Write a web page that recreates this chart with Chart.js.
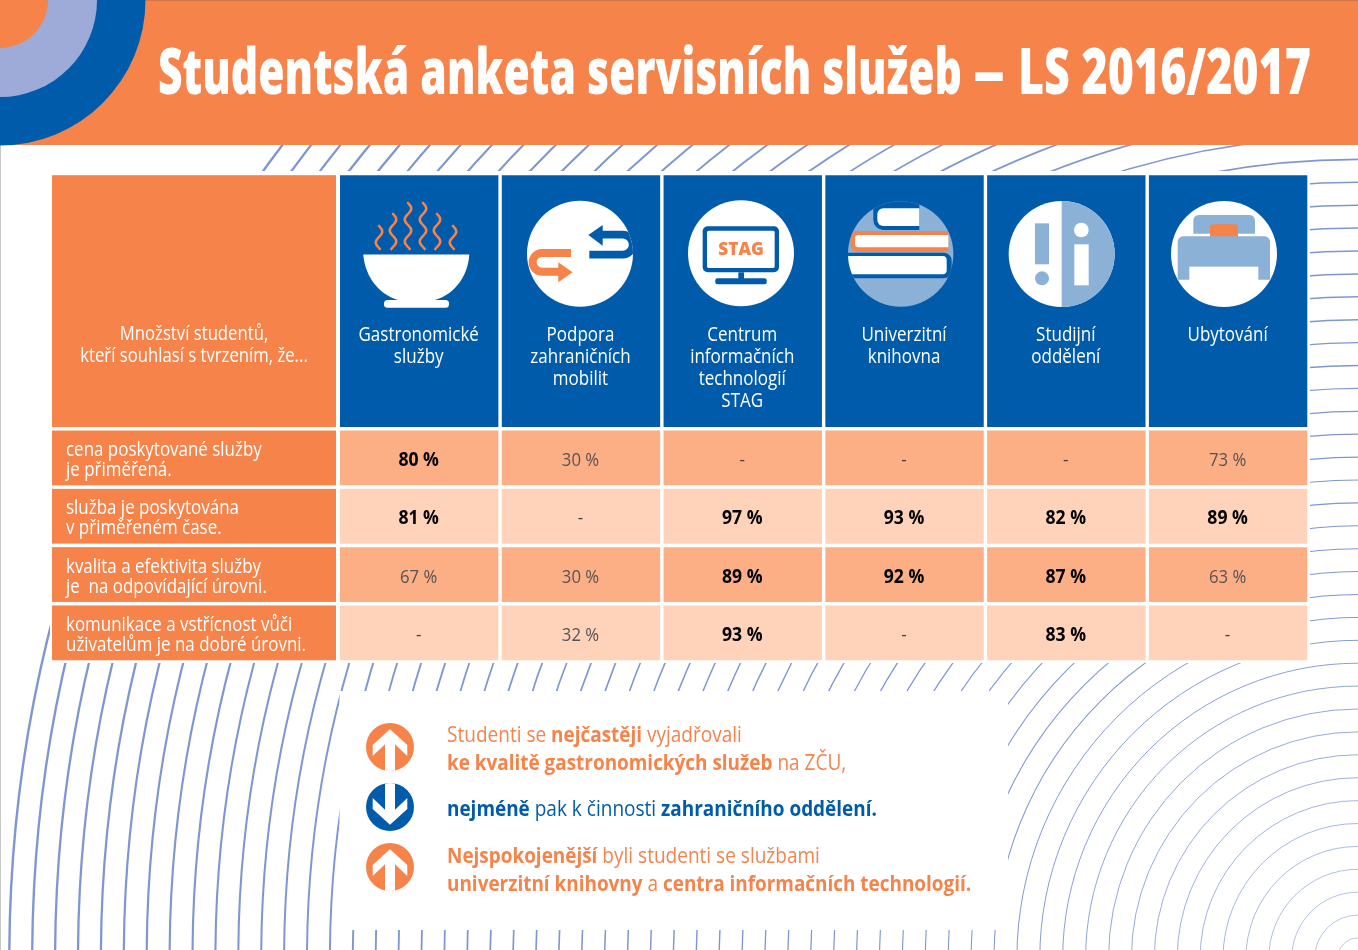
<!DOCTYPE html>
<html lang="cs">
<head>
<meta charset="utf-8">
<title>Studentská anketa servisních služeb</title>
<script src="https://cdn.jsdelivr.net/npm/chart.js@4"></script>
<style>
  html, body { margin: 0; padding: 0; background: #fff; }
  canvas { display: block; }
</style>
</head>
<body>
<canvas id="anketa" width="1358" height="950"></canvas>
<script>
const services = [
  ['Gastronomické', 'služby'],
  ['Podpora', 'zahraničních', 'mobilit'],
  ['Centrum', 'informačních', 'technologií', 'STAG'],
  ['Univerzitní', 'knihovna'],
  ['Studijní', 'oddělení'],
  ['Ubytování'],
];

const statements = [
  ['cena poskytované služby', 'je přiměřená.'],
  ['služba je poskytována', 'v přiměřeném čase.'],
  ['kvalita a efektivita služby', 'je  na odpovídající úrovni.'],
  ['komunikace a vstřícnost vůči', 'uživatelům je na dobré úrovni.'],
];

// percent of students who agree, null = "-"
const priceValues = [80, 30, null, null, null, 73];
const timeValues = [81, null, 97, 93, 82, 89];
const qualityValues = [67, 30, 89, 92, 87, 63];
const communicationValues = [null, 32, 93, null, 83, null];
const rows = [priceValues, timeValues, qualityValues, communicationValues];

const titleParts = ['Studentská anketa servisních služeb', '–', 'LS 2016/2017'];
const cornerLabel = ['Množství studentů,', 'kteří souhlasí s tvrzením, že...'];

// [text, bold]
const noteLines = [
  [['Studenti se ', false], ['nejčastěji', true], [' vyjadřovali', false]],
  [['ke kvalitě gastronomických služeb', true], [' na ZČU,', false]],
  [['nejméně', true], [' pak k činnosti ', false], ['zahraničního oddělení.', true]],
  [['Nejspokojenější', true], [' byli studenti se službami', false]],
  [['univerzitní knihovny', true], [' a ', false], ['centra informačních technologií.', true]],
];

const ORANGE = '#f6834a';
const BLUE = '#005cab';
const LIGHT = '#8cb1d7';
const ROW_DARK = '#fcae85';
const ROW_PALE = '#fed3ba';
const SANS = '"Open Sans"';

// draws condensed text, the design uses a narrow face we do not have
function text(ctx, str, x, y, font, color, squeeze, align) {
  ctx.save();
  ctx.font = font;
  ctx.fillStyle = color;
  ctx.textBaseline = 'alphabetic';
  ctx.textAlign = 'left';
  const w = ctx.measureText(str).width * squeeze;
  if (align === 'center') x -= w / 2;
  ctx.translate(x, y);
  ctx.scale(squeeze, 1);
  ctx.fillText(str, 0, 0);
  ctx.restore();
  return w;
}

// same, but squeezed to run from x0 to x1
function textBetween(ctx, str, x0, x1, y, font, color) {
  ctx.save();
  ctx.font = font;
  const squeeze = (x1 - x0) / ctx.measureText(str).width;
  ctx.restore();
  text(ctx, str, x0, y, font, color, squeeze);
}

function roundRect(ctx, x0, y0, x1, y1, r, color) {
  ctx.fillStyle = color;
  ctx.beginPath();
  ctx.roundRect(x0, y0, x1 - x0, y1 - y0, r);
  ctx.fill();
}

function disc(ctx, cx, cy, r, color) {
  ctx.fillStyle = color;
  ctx.beginPath();
  ctx.arc(cx, cy, r, 0, Math.PI * 2);
  ctx.fill();
}

function poly(ctx, pts, color) {
  ctx.fillStyle = color;
  ctx.beginPath();
  pts.forEach((p, i) => (i ? ctx.lineTo(p[0], p[1]) : ctx.moveTo(p[0], p[1])));
  ctx.closePath();
  ctx.fill();
}

function backdrop(ctx) {
  ctx.fillStyle = '#fff';
  ctx.fillRect(0, 0, 1358, 950);
  ctx.fillStyle = '#c8c8c8';
  ctx.fillRect(0, 0, 1, 950);

  // concentric rings around the bottom right corner
  ctx.strokeStyle = '#7f97d0';
  for (let r = 20.5; r < 1352; r += 22.9) {
    ctx.lineWidth = 0.5 + r * 0.0014;
    ctx.beginPath();
    ctx.arc(1358, 958.5, r, Math.PI, Math.PI * 1.5);
    ctx.stroke();
  }
  ctx.fillStyle = '#fff';
  ctx.fillRect(50, 171, 1260, 492);
  ctx.fillRect(339.5, 691, 668.5, 239);

  // banner
  ctx.fillStyle = ORANGE;
  ctx.fillRect(0, 0, 1358, 145);
  ctx.fillStyle = '#cf7547';
  ctx.fillRect(0, 0, 1358, 1);
  disc(ctx, 0, 0, 145.5, BLUE);
  disc(ctx, 0, 0, 97, '#9eabd8');
  disc(ctx, 0, 0, 48, ORANGE);

  const titleFont = `800 64px ${SANS}`;
  textBetween(ctx, titleParts[0], 158, 962, 94, titleFont, '#fff');
  textBetween(ctx, titleParts[1], 973, 1005, 94, titleFont, '#fff');
  textBetween(ctx, titleParts[2], 1018, 1311, 94, titleFont, '#fff');
}

function steam(ctx, x, top, bottom) {
  ctx.beginPath();
  for (let y = top; y <= bottom; y += 1) {
    const dx = 3.2 * Math.sin(((y - top) / 22) * Math.PI * 2);
    if (y === top) ctx.moveTo(x + dx, y);
    else ctx.lineTo(x + dx, y);
  }
  ctx.stroke();
}

function bowlIcon(ctx) {
  ctx.strokeStyle = ORANGE;
  ctx.lineWidth = 2.6;
  ctx.lineCap = 'round';
  steam(ctx, 379, 226, 249);
  steam(ctx, 393, 214, 249);
  steam(ctx, 408, 203, 249);
  steam(ctx, 423, 203, 249);
  steam(ctx, 437, 214, 249);
  steam(ctx, 453, 226, 249);
  ctx.lineCap = 'butt';
  ctx.fillStyle = '#fff';
  ctx.beginPath();
  ctx.moveTo(363.3, 254.5);
  ctx.lineTo(469.3, 254.5);
  ctx.bezierCurveTo(468, 278, 452, 297, 431, 301);
  ctx.lineTo(402, 301);
  ctx.bezierCurveTo(381, 297, 365, 278, 363.3, 254.5);
  ctx.fill();
  roundRect(ctx, 384, 300, 449, 307.7, 3.5, '#fff');
}

// the icons are laid out in 3x units, taken from a crop of the design
function inCrop(ctx, ox, oy, draw) {
  ctx.save();
  ctx.translate(ox, oy);
  ctx.scale(1 / 3, 1 / 3);
  draw();
  ctx.restore();
}

function mobilityIcon(ctx) {
  inCrop(ctx, 340, 175, () => {
    disc(ctx, 720, 236, 159, '#fff');
    ctx.save();
    ctx.beginPath();
    ctx.arc(720, 236, 159, 0, Math.PI * 2);
    ctx.clip();
    ctx.strokeStyle = BLUE;
    ctx.lineWidth = 23;
    ctx.beginPath();
    ctx.moveTo(785, 179);
    ctx.lineTo(848, 179);
    ctx.arc(848, 209, 30, -Math.PI / 2, Math.PI / 2);
    ctx.lineTo(748, 239);
    ctx.stroke();
    poly(ctx, [[745, 180], [788, 150], [788, 212]], BLUE);
    ctx.strokeStyle = ORANGE;
    ctx.lineWidth = 24;
    ctx.beginPath();
    ctx.moveTo(693, 234);
    ctx.lineTo(606, 234);
    ctx.arc(606, 262, 28, -Math.PI / 2, Math.PI / 2, true);
    ctx.lineTo(658, 290);
    ctx.stroke();
    poly(ctx, [[655, 262], [698, 292], [655, 322]], ORANGE);
    ctx.restore();
  });
}

function stagIcon(ctx) {
  inCrop(ctx, 340, 175, () => {
    disc(ctx, 1203, 235, 159, '#fff');
    roundRect(ctx, 1088, 154, 1317, 292, 15, BLUE);
    roundRect(ctx, 1101, 167, 1304, 279, 5, '#fff');
    ctx.fillStyle = BLUE;
    ctx.fillRect(1195, 292, 17, 20);
    roundRect(ctx, 1126, 310, 1280, 328, 6, BLUE);
    text(ctx, 'STAG', 1203, 240, `800 52px ${SANS}`, ORANGE, 1, 'center');
  });
}

function libraryIcon(ctx) {
  inCrop(ctx, 820, 175, () => {
    disc(ctx, 242, 237, 158, LIGHT);
    ctx.save();
    ctx.beginPath();
    ctx.arc(242, 237, 158, 0, Math.PI * 2);
    ctx.clip();
    ctx.beginPath();
    ctx.roundRect(160, 70, 138, 95, [0, 0, 0, 30]);
    ctx.fillStyle = BLUE;
    ctx.fill();
    roundRect(ctx, 172, 100, 298, 153, [18, 0, 0, 18], '#fff');
    roundRect(ctx, 92, 168, 385, 230, [18, 0, 0, 18], ORANGE);
    roundRect(ctx, 105, 180, 385, 217, [10, 0, 0, 10], '#fff');
    roundRect(ctx, 60, 233, 395, 310, [0, 24, 24, 0], BLUE);
    roundRect(ctx, 60, 243, 380, 298, [0, 12, 12, 0], '#fff');
    ctx.restore();
  });
}

function infoIcon(ctx) {
  inCrop(ctx, 820, 175, () => {
    disc(ctx, 725, 237, 159, '#fff');
    ctx.fillStyle = LIGHT;
    ctx.beginPath();
    ctx.arc(725, 237, 159, -Math.PI / 2, Math.PI / 2);
    ctx.fill();
    ctx.fillRect(645, 145, 42, 123);
    disc(ctx, 666, 310, 21, LIGHT);
    ctx.fillStyle = '#fff';
    ctx.fillRect(763, 208, 43, 123);
    disc(ctx, 784, 165, 22, '#fff');
  });
}

function bedIcon(ctx) {
  inCrop(ctx, 820, 175, () => {
    disc(ctx, 1212, 237, 159, '#fff');
    ctx.save();
    ctx.beginPath();
    ctx.arc(1212, 237, 159, 0, Math.PI * 2);
    ctx.clip();
    roundRect(ctx, 1120, 120, 1305, 176, [16, 16, 0, 0], LIGHT);
    roundRect(ctx, 1170, 148, 1254, 190, [10, 10, 0, 0], ORANGE);
    roundRect(ctx, 1073, 184, 1350, 314, [16, 16, 0, 0], LIGHT);
    ctx.fillStyle = '#fff';
    ctx.fillRect(1108, 275, 207, 45);
    ctx.restore();
  });
}

function badge(ctx, cx, cy, color, dir) {
  disc(ctx, cx, cy, 24, color);
  ctx.save();
  ctx.beginPath();
  ctx.arc(cx, cy, 24, 0, Math.PI * 2);
  ctx.clip();
  const pts = [[0, -17.7], [17.3, -2], [17.3, 9], [5, -2.7], [5, 25], [-5, 25], [-5, -2.7], [-17.3, 9], [-17.3, -2]];
  poly(ctx, pts.map((p) => [cx + p[0], cy + p[1] * dir]), '#fff');
  ctx.restore();
}

function notes(ctx) {
  const baselines = [741.5, 769.5, 815.5, 863, 891];
  const colors = [ORANGE, ORANGE, BLUE, ORANGE, ORANGE];
  noteLines.forEach((runs, i) => {
    let x = 447;
    runs.forEach(([str, bold]) => {
      const font = bold ? `700 22px ${SANS}` : `400 22px ${SANS}`;
      x += text(ctx, str, x, baselines[i], font, colors[i], bold ? 0.86 : 0.865);
    });
  });
  badge(ctx, 390, 747, ORANGE, 1);
  badge(ctx, 390, 807, BLUE, -1);
  badge(ctx, 390, 867, ORANGE, 1);
}

const anketaDecor = {
  id: 'anketaDecor',
  beforeDraw(chart) {
    backdrop(chart.ctx);
  },
  beforeDatasetsDraw(chart) {
    const { ctx, scales } = chart;
    // the statement column sits left of the plot area
    ctx.fillStyle = ORANGE;
    const headTop = scales.y.getPixelForValue(HEADER_TOP);
    const headBottom = scales.y.getPixelForValue(-CELL_GAP);
    ctx.fillRect(52, headTop, 284, headBottom - headTop);
    rows.forEach((_, r) => {
      const top = scales.y.getPixelForValue(r + CELL_GAP);
      const bottom = scales.y.getPixelForValue(r + 1 - CELL_GAP);
      ctx.fillRect(52, top, 284, bottom - top);
    });
  },
  afterDatasetsDraw(chart) {
    const { ctx, scales } = chart;
    const plain = `400 20px ${SANS}`;

    text(ctx, cornerLabel[0], 194, 340, plain, '#fff', 0.835, 'center');
    text(ctx, cornerLabel[1], 194, 362, plain, '#fff', 0.835, 'center');

    statements.forEach((lines, r) => {
      const mid = scales.y.getPixelForValue(r + 0.5);
      text(ctx, lines[0], 66, mid - 2, plain, '#fff', 0.847);
      text(ctx, lines[1], 66, mid + 18, plain, '#fff', 0.847);
    });

    services.forEach((lines, c) => {
      const cx = scales.x.getPixelForValue(c) - 0.5;
      lines.forEach((line, i) => {
        text(ctx, line, cx, 341 + i * 22, plain, '#fff', 0.85, 'center');
      });
      rows.forEach((row, r) => {
        const y = scales.y.getPixelForValue(r + 0.5) + 8;
        const value = row[c];
        if (value === null) {
          text(ctx, '-', cx, y, `400 19px ${SANS}`, '#444', 0.9, 'center');
        } else if (value >= 80) {
          text(ctx, `${value} %`, cx, y, `700 20px ${SANS}`, '#000', 0.88, 'center');
        } else {
          text(ctx, `${value} %`, cx, y, `400 19px ${SANS}`, '#555', 0.88, 'center');
        }
      });
    });

    bowlIcon(ctx);
    mobilityIcon(ctx);
    stagIcon(ctx);
    libraryIcon(ctx);
    infoIcon(ctx);
    bedIcon(ctx);
    notes(ctx);
  },
};

const HEADER_TOP = -4.35;
const CELL_GAP = 0.03;

const datasets = [
  {
    label: 'Služba',
    data: services.map(() => [HEADER_TOP, -CELL_GAP]),
    backgroundColor: BLUE,
  },
  ...rows.map((row, r) => ({
    label: statements[r].join(' '),
    data: row.map(() => [r + CELL_GAP, r + 1 - CELL_GAP]),
    backgroundColor: r % 2 ? ROW_PALE : ROW_DARK,
  })),
];

new Chart(document.getElementById('anketa'), {
  type: 'bar',
  data: {
    labels: services.map((lines) => lines.join(' ')),
    datasets,
  },
  options: {
    responsive: false,
    animation: false,
    devicePixelRatio: 1,
    layout: { padding: { left: 338.3, right: 49, top: 173.2, bottom: 288 } },
    datasets: {
      bar: { grouped: false, categoryPercentage: 1, barPercentage: 0.979, borderWidth: 0 },
    },
    plugins: { legend: { display: false }, tooltip: { enabled: false } },
    scales: {
      x: { display: false, offset: true },
      y: { display: false, reverse: true, min: -4.384, max: 4 },
    },
  },
  plugins: [anketaDecor],
});
</script>
</body>
</html>
